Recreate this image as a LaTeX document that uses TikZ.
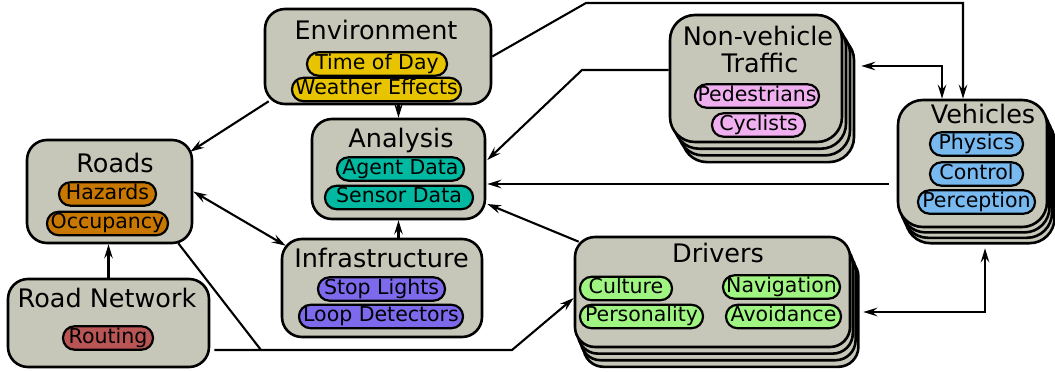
\documentclass[tikz,border=0pt]{standalone}
\usepackage{fontspec}
\setmainfont{DejaVu Sans}
\usetikzlibrary{arrows.meta,calc}
\definecolor{boxfill}{RGB}{199,199,185}
\definecolor{envc}{RGB}{232,196,0}
\definecolor{roadc}{RGB}{200,120,0}
\definecolor{routc}{RGB}{185,85,85}
\definecolor{anac}{RGB}{0,185,160}
\definecolor{infc}{RGB}{125,105,235}
\definecolor{nvc}{RGB}{240,176,240}
\definecolor{vehc}{RGB}{120,185,240}
\definecolor{drvc}{RGB}{160,245,130}
\begin{document}
\begin{tikzpicture}[x=1pt,y=-1pt,
  box/.style={draw=black, line width=2.6pt, fill=boxfill, rounded corners=20pt, inner sep=0pt},
  pill/.style={draw=black, line width=2.2pt, rounded corners=11.5pt, inner sep=2pt,
     text height=14.8pt, text depth=4.6pt, font=\fontsize{20.5}{22}\selectfont},
  ttl/.style={anchor=base, inner sep=0pt, font=\fontsize{25.5}{27}\selectfont},
  tip/.style={},
  conn/.style={line width=2.1pt, -{Stealth[length=14pt,width=8.5pt,inset=5pt]}},
  dconn/.style={line width=2.1pt, {Stealth[length=14pt,width=8.5pt,inset=5pt]}-{Stealth[length=14pt,width=8.5pt,inset=5pt]}},
  plain/.style={line width=2.1pt},
]
\useasboundingbox (0,0) rectangle (1055,372);

% stacked shadows
\foreach \k in {3,2,1} {
  \draw[box] ({575+2.8*\k},{237+6.6*\k}) rectangle ({850+2.8*\k},{347+6.6*\k});
  \draw[box, rounded corners=25pt] ({670+4*\k},{15+6.7*\k}) rectangle ({842+4*\k},{142+6.7*\k});
  \draw[box, rounded corners=25pt] ({898+2.5*\k},{100+5.4*\k}) rectangle ({1047+2.5*\k},{227+5.4*\k});
}

% boxes
\node[box, minimum width=226pt, minimum height=95pt] (env) at (378,56.5) {};
\node[box, minimum width=165pt, minimum height=103pt] (roads) at (109.5,191.5) {};
\node[box, minimum width=201pt, minimum height=88pt] (rn) at (108.5,323) {};
\node[box, minimum width=173pt, minimum height=100pt] (ana) at (398.5,169) {};
\node[box, minimum width=200pt, minimum height=98pt] (inf) at (382,288) {};
\node[box, minimum width=275pt, minimum height=110pt] (drv) at (712.5,292) {};
\node[box, rounded corners=25pt, minimum width=172pt, minimum height=127pt] (nv) at (756,78.5) {};
\node[box, rounded corners=25pt, minimum width=149pt, minimum height=127pt] (veh) at (972.5,163.5) {};

% titles
\node[ttl] (tenv) at (376,39) {Environment};
\node[ttl] (troads) at (115,172) {Roads};
\node[ttl] (trn) at (107,307) {Road Network};
\node[ttl] (tana) at (401,147) {Analysis};
\node[ttl] (tinf) at (381.5,267) {Infrastructure};
\node[ttl] (tdrv) at (718,262) {Drivers};
\node[ttl] (tnv1) at (758,45) {Non-vehicle};
\node[ttl] (tnv2) at (760,72) {Traffic};
\node[ttl] (tveh) at (983,123) {Vehicles};

% pills
\node[pill, fill=envc, minimum width=140pt] (p1) at (377,64) {Time of Day};
\node[pill, fill=envc, minimum width=169pt] (p2) at (376.5,89.5) {Weather Effects};
\node[pill, fill=roadc, minimum width=97pt] (p3) at (107.5,194) {Hazards};
\node[pill, fill=roadc, minimum width=121pt] (p4) at (107.5,223.5) {Occupancy};
\node[pill, fill=routc, minimum width=90pt] (p5) at (108,338) {Routing};
\node[pill, fill=anac, minimum width=127pt] (p6) at (400.5,169) {Agent Data};
\node[pill, fill=anac, minimum width=148pt] (p7) at (399,197.5) {Sensor Data};
\node[pill, fill=infc, minimum width=127pt] (p8) at (381.5,289) {Stop Lights};
\node[pill, fill=infc, minimum width=164pt] (p9) at (381,316.5) {Loop Detectors};
\node[pill, fill=nvc, minimum width=124pt] (p10) at (757,96) {Pedestrians};
\node[pill, fill=nvc, minimum width=93pt] (p11) at (758.5,125) {Cyclists};
\node[pill, fill=vehc, minimum width=93pt] (p12) at (976.5,144) {Physics};
\node[pill, fill=vehc, minimum width=93pt] (p13) at (976.5,174) {Control};
\node[pill, fill=vehc, minimum width=117pt] (p14) at (976.5,202) {Perception};
\node[pill, fill=drvc, minimum width=92pt] (p15) at (626,288.5) {Culture};
\node[pill, fill=drvc, minimum width=123pt] (p16) at (641.5,316.5) {Personality};
\node[pill, fill=drvc, minimum width=117pt] (p17) at (781.5,287) {Navigation};
\node[pill, fill=drvc, minimum width=115pt] (p18) at (783.5,316.5) {Avoidance};

% connectors
\draw[conn] ([shift={(5,-4)}]env.south west) -- ([shift={(-3,13)}]roads.north east);
\draw[conn] (env.east) -- (586,3) -| ([shift={(-9.5,0)}]veh.north);
\draw[dconn] ([shift={(18,-12.5)}]nv.east) -| ([shift={(-30.5,0)}]veh.north);
\draw[conn] ([shift={(0,-8.5)}]nv.west) -- (582,70) -- ([shift={(1,-9)}]ana.east);
\draw[conn] ([shift={(-8,20.5)}]veh.west) -- ([shift={(1,15)}]ana.east);
\draw[conn] ([shift={(5,6)}]drv.north west) -- ([shift={(1,35)}]ana.east);
\draw[conn] (ana.north |- env.south) -- (ana.north);
\draw[conn] (ana.south |- inf.north) -- (ana.south);
\draw[conn] (rn.north) -- (rn.north |- roads.south);
\draw[dconn] (roads.east) -- ([shift={(5,8)}]inf.north west);
\draw[plain] ([shift={(-15,-1)}]roads.south east) -- (261,350);
\draw[conn] ([shift={(4,27)}]rn.east) -- (512,350) -- ([shift={(0,6)}]drv.west);
\draw[dconn] ([shift={(12,20)}]drv.east) -| ([shift={(12.5,20)}]veh.south);
\end{tikzpicture}
\end{document}
